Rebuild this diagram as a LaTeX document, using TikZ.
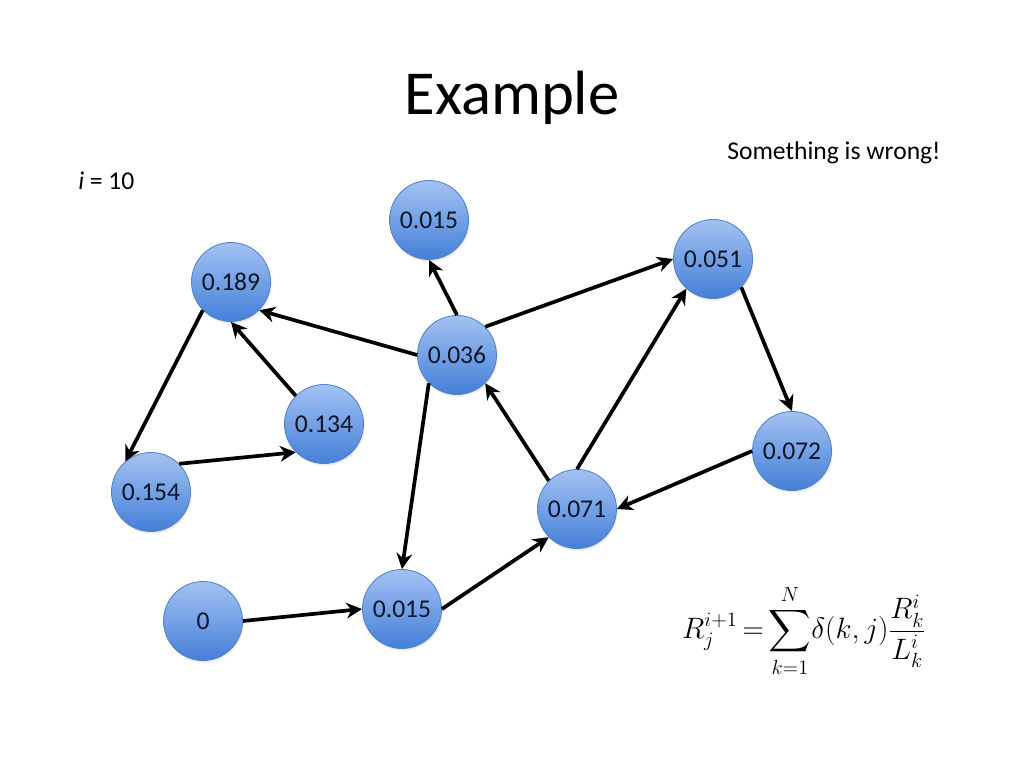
\documentclass[tikz,border=0pt]{standalone}
\usepackage{amsmath}
\usepackage{fontspec}
\setmainfont{Carlito}
\usetikzlibrary{arrows.meta,shadows}
\definecolor{ntop}{HTML}{A3C2F2}
\definecolor{nmid}{HTML}{76A3EA}
\definecolor{nbot}{HTML}{447FD8}
\definecolor{nborder}{HTML}{4F82C6}
\definecolor{ntext}{HTML}{0E1526}
\tikzset{
  pnode/.style={circle, minimum size=79*0.703125pt, inner sep=0pt,
    top color=ntop, middle color=nmid, bottom color=nbot,
    draw=nborder, line width=0.6pt, text=ntext,
    font=\fontsize{18}{20}\selectfont,
    drop shadow={opacity=0.15, shadow xshift=0.8pt, shadow yshift=-1.6pt}},
  edge/.style={line width=2.6pt, draw=black,
    -{Stealth[length=11pt, width=11pt, inset=3.5pt]}},
  label/.style={font=\fontsize{18}{20}\selectfont, inner sep=0pt}
}
\begin{document}
\begin{tikzpicture}[x=0.703125pt, y=-0.703125pt]
\useasboundingbox (0,0) rectangle (1024,768);
\node[font=\fontsize{44}{50}\selectfont, inner sep=0pt] (title) at (512,98) {Example};
\node[label, anchor=west] (wrong) at (727,153) {Something is wrong!};
\node[label, anchor=west] (iter) at (78,181) {\textit{i} = 10};

\node[pnode] (a015t) at (429,220) {0.015};
\node[pnode] (a189) at (231,282) {0.189};
\node[pnode] (a051) at (713,259) {0.051};
\node[pnode] (a036) at (457,355) {0.036};
\node[pnode] (a134) at (324,424) {0.134};
\node[pnode] (a072) at (792,451) {0.072};
\node[pnode] (a154) at (151,492) {0.154};
\node[pnode] (a071) at (577,509) {0.071};
\node[pnode] (a0) at (203,621) {0};
\node[pnode] (a015b) at (402,609) {0.015};

\draw[edge] (a036.90) -- (a015t.270);
\draw[edge] (a036.180) -- (a189.-45);
\draw[edge] (a036.45) -- (a051.180);
\draw[edge] (a036.225) -- (a015b.90);
\draw[edge] (a189.225) -- (a154.130);
\draw[edge] (a134.135) -- (a189.270);
\draw[edge] (a154.45) -- (a134.225);
\draw[edge] (a0.0) -- (a015b.180);
\draw[edge] (a015b.0) -- (a071.225);
\draw[edge] (a071.135) -- (a036.-45);
\draw[edge] (a071.90) -- (a051.228);
\draw[edge] (a051.-45) -- (a072.90);
\draw[edge] (a072.180) -- (a071.0);

\node[font=\fontsize{20.5}{24}\selectfont, inner sep=0pt] (eq) at (804,631)
  {$\displaystyle R_j^{i+1}\mskip-2mu=\mskip-2mu\sum_{k=1}^{N}\mskip-3mu\delta(k,j)\frac{R_k^i}{L_k^i}$};
\end{tikzpicture}
\end{document}
